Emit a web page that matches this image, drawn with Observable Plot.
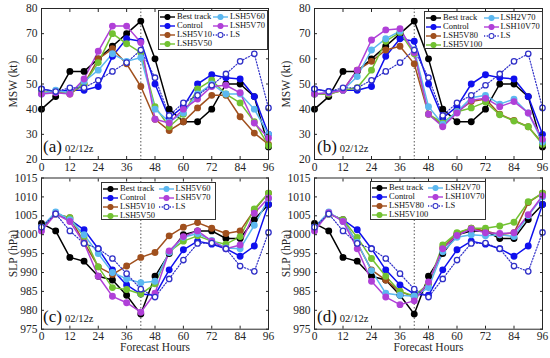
<!DOCTYPE html>
<html><head><meta charset="utf-8">
<script src="https://cdn.jsdelivr.net/npm/d3@7"></script>
<script src="https://cdn.jsdelivr.net/npm/@observablehq/plot@0.6"></script>
<style>
body{margin:0;background:#fff;}
#wrap{position:relative;width:550px;height:358px;overflow:hidden;background:#fff;font-family:"Liberation Serif","Times New Roman",serif;color:#262626;}
.panel{position:absolute;}
.panel svg{overflow:visible;}
.legend{position:absolute;border:1px solid #333;background:#fff;box-sizing:border-box;display:grid;grid-auto-flow:column;grid-template-rows:repeat(4,9px);padding:1px 1px;font-size:8.5px;line-height:9px;color:#111;font-family:"Liberation Serif",serif;}
.legend .it{display:flex;align-items:center;white-space:nowrap;}
.legend svg{margin-right:2px;flex:none;}
.plabel{position:absolute;font-size:17px;color:#111;white-space:nowrap;font-family:"Liberation Serif",serif;}
.plabel span{font-size:10.5px;margin-left:3px;}
</style></head>
<body>
<div id="wrap"></div>
<script>
const hours = [0,6,12,18,24,30,36,42,48,54,60,66,72,78,84,90,96];
const xTicks = [0,12,24,36,48,60,72,84,96];
const mswTicks = [20,30,40,50,60,70,80];
const slpTicks = [975,980,985,990,995,1000,1005,1010,1015];
const markHour = [42];

// MSW (kt)
const mswBest    = [40,45,55,55,60,65,70,75,60,40,35,35,40,50,50,45,25];
const mswControl = [48,47,47.5,47.5,49,61,68,67,50,36.5,41,50,53.7,52.5,52,45,30];
const mswLS      = [48,47,48.5,48.5,51.5,55,58.5,63.5,52.5,37.5,42.5,45.5,49.5,54,59,62,40.5];
const mswLSH5V10 = [46.5,47,46,50,60,64,58,49,36,31.5,35,40.5,45.5,45.5,37,30.5,26];
const mswLSH5V50 = [46.5,47,46.5,50,58.5,70,66,62.5,41,33,38,48,51.5,46,42.5,35,25.5];
const mswLSH5V60 = [46,47.5,46.5,51,55.5,62,59,60.5,40,35,38.5,46,50,46,46,40,30];
const mswLSH5V70 = [46,46.5,46,52,63,73,73,66.5,36,34.5,40,44,49,49.5,46.5,34.5,28.5];
const mswLSH5V80 = [46,46,47.5,55.5,59,63.5,65,58,38,33.5,39,43,44,38,35.5,33,26.5];
const mswLSH5V100= [46,46,47.5,48.5,55.5,67,70.5,62,38,34.5,39,40.5,42.8,37.8,35.3,33,26];
const mswLSH2V70 = [46,46.5,47.5,53,63.5,68,71,63.5,41,34,39,44.5,45.5,42,44,38.5,27];
const mswLSH10V70= [46,46.5,47.5,55.5,67.5,71.5,72,62.5,38,33,38.5,43.5,44.3,41,43,38.5,28];

// SLP (hPa)
const slpBest    = [1003,1001,994,993,989,988,984,979,989,995,1000,1001,1001,999,999,1004,1008];
const slpControl = [1002,1005.5,1004,1001.3,996.3,990.7,986.7,984.3,984,990.7,996,998.3,997.5,996.3,994.3,997,1008];
const slpLS      = [1002,1005.5,1001,997.7,996.3,993.7,989.7,985.6,983.5,988.3,993.3,997.7,997.8,996.3,991.7,990.3,1000.6];
const slpLSH5V10 = [1002,1005.5,1004.5,998,991.5,989.5,991.7,994,995.3,999.7,1002,1003.2,1001.7,1000.3,1001,1006.5,1011];
const slpLSH5V50 = [1002,1005.5,1004.5,999.5,991.5,986,985.5,984.3,987,995.5,998.3,999.7,998.3,997.5,999.5,1006.8,1011];
const slpLSH5V60 = [1002,1006,1004,1000,995,990,988.3,987.3,987.7,995.3,999.3,1000.3,998.5,996.5,996.3,1002.5,1009.5];
const slpLSH5V70 = [1001,1005.5,1003.5,997.8,989,983.7,982,979.5,984.5,995.7,999.5,1001,998.3,996.3,997.3,1005.7,1009.7];
const slpLSH5V80 = [1002,1005.5,1004,997.7,990.7,988,985,983.5,987,996.5,1000.3,1001.7,1001,1000,1000.5,1008.5,1011];
const slpLSH5V100= [1002,1005.5,1004,999.3,993.7,989,985,983.8,987,997.3,1000.5,1001.7,1001.7,1002.3,1003.3,1008.7,1011];
const slpLSH2V70 = [1002,1006,1003.5,998,990.5,984.5,984,983.7,986,995.5,999.3,1000,999.7,1000,999.5,1005,1010];
const slpLSH10V70= [1001,1005.8,1003.5,996.3,987.7,983.5,981.5,982.5,987.5,996.3,999.8,1001.5,1000.5,1000.3,1000.5,1005.3,1010.3];

const namesA = ["Best track","Control","LSH5V10","LSH5V50","LSH5V60","LSH5V70","LS"];
const namesB = ["Best track","Control","LSH5V80","LSH5V100","LSH2V70","LSH10V70","LS"];
const panelLetters = ["(a)","(b)","(c)","(d)"];
const initTime = "02/12z";

// styles
const palette = ["#000000","#1010ee","#a0501e","#72c232","#5cb8f0","#b040d8","#3030c8"];

const panels = [
  {letter:panelLetters[0], names:namesA, series:[mswBest,mswControl,mswLSH5V10,mswLSH5V50,mswLSH5V60,mswLSH5V70,mswLS], yDomain:[20,80], yTicks:mswTicks, yLabel:"MSW (kt)", xLabel:null,
   pos:{left:0,top:0,w:275,h:178,ml:41,mr:7,mt:8,mb:19}, leg:{left:158,top:10,w:110,h:40}, lab:{left:43,top:137}},
  {letter:panelLetters[1], names:namesB, series:[mswBest,mswControl,mswLSH5V80,mswLSH5V100,mswLSH2V70,mswLSH10V70,mswLS], yDomain:[20,80], yTicks:mswTicks, yLabel:"MSW (kt)", xLabel:null,
   pos:{left:275,top:0,w:275,h:178,ml:39,mr:8,mt:8,mb:19}, leg:{left:424,top:11,w:119,h:38}, lab:{left:317,top:137}},
  {letter:panelLetters[2], names:namesA, series:[slpBest,slpControl,slpLSH5V10,slpLSH5V50,slpLSH5V60,slpLSH5V70,slpLS], yDomain:[975,1015], yTicks:slpTicks, yLabel:"SLP (hPa)", xLabel:"Forecast Hours",
   pos:{left:0,top:177,w:275,h:181,ml:41,mr:7,mt:0.5,mb:29.3}, leg:{left:101,top:182,w:115,h:38}, lab:{left:43,top:307}},
  {letter:panelLetters[3], names:namesB, series:[slpBest,slpControl,slpLSH5V80,slpLSH5V100,slpLSH2V70,slpLSH10V70,slpLS], yDomain:[975,1015], yTicks:slpTicks, yLabel:"SLP (hPa)", xLabel:"Forecast Hours",
   pos:{left:275,top:177,w:275,h:181,ml:39,mr:8,mt:0.5,mb:29.3}, leg:{left:370,top:181,w:116,h:39}, lab:{left:317,top:307}},
];

const wrap = document.getElementById("wrap");

function swatch(color, dotted){
  const ns="http://www.w3.org/2000/svg";
  const s=document.createElementNS(ns,"svg");
  s.setAttribute("width","15");s.setAttribute("height","8");
  s.innerHTML = `<line x1="0" x2="15" y1="4" y2="4" stroke="${color}" stroke-width="1.4" ${dotted?'stroke-dasharray="1.2,1.5"':''}/>`+
    `<circle cx="7.5" cy="4" r="2.5" fill="${dotted?'#fff':color}" stroke="${color}" stroke-width="1.1"/>`;
  return s;
}

const fmt = d => String(d);

for (const p of panels){
  const rows=[];
  p.names.forEach((n,i)=>{ p.series[i].forEach((v,j)=>rows.push({series:n, hour:hours[j], value:v})); });
  const solid = rows.filter(d=>d.series!=="LS");
  const ls = rows.filter(d=>d.series==="LS");
  const color = {domain:p.names, range:palette};
  const chart = Plot.plot({
    width:p.pos.w, height:p.pos.h,
    marginLeft:p.pos.ml, marginRight:p.pos.mr, marginTop:p.pos.mt, marginBottom:p.pos.mb,
    style:{fontFamily:"'Liberation Serif', 'Times New Roman', serif", fontSize:"11.5px", color:"#262626", background:"transparent", overflow:"visible"},
    x:{domain:[0,96]},
    y:{domain:p.yDomain},
    color,
    marks:[
      Plot.ruleX(markHour,{stroke:"#555",strokeDasharray:"1.5,2",strokeWidth:1}),
      Plot.line(solid,{x:"hour",y:"value",z:"series",stroke:"series",strokeWidth:1.5}),
      Plot.line(ls,{x:"hour",y:"value",z:"series",stroke:"series",strokeWidth:1.2,strokeDasharray:"1.2,1.8"}),
      Plot.dot(solid,{x:"hour",y:"value",fill:"series",stroke:"series",r:2.7}),
      Plot.dot(ls,{x:"hour",y:"value",fill:"white",stroke:"series",r:2.7,strokeWidth:1.3}),
      Plot.frame({stroke:"#262626"}),
      Plot.axisX(xTicks,{anchor:"bottom",tickSize:-3,tickPadding:6,tickFormat:fmt,label:p.xLabel,labelAnchor:"center",labelOffset:22,labelArrow:"none"}),
      Plot.axisX(xTicks,{anchor:"top",tickSize:-3,tickFormat:()=>"",label:null}),
      Plot.axisY(p.yTicks,{anchor:"left",tickSize:-3,tickPadding:7,tickFormat:fmt,label:p.yLabel,labelAnchor:"center",labelOffset:33,labelArrow:"none"}),
      Plot.axisY(p.yTicks,{anchor:"right",tickSize:-3,tickFormat:()=>"",label:null})
    ]
  });
  const d=document.createElement("div");
  d.className="panel"; d.style.left=p.pos.left+"px"; d.style.top=p.pos.top+"px";
  d.appendChild(chart); wrap.appendChild(d);

  const l=document.createElement("div");
  l.className="plabel"; l.style.left=p.lab.left+"px"; l.style.top=p.lab.top+"px";
  l.textContent=p.letter;
  const sp=document.createElement("span"); sp.textContent=initTime; l.appendChild(sp);
  wrap.appendChild(l);

  const lg=document.createElement("div");
  lg.className="legend";
  Object.assign(lg.style,{left:p.leg.left+"px",top:p.leg.top+"px",width:p.leg.w+"px",height:p.leg.h+"px"});
  p.names.forEach((n,i)=>{
    const it=document.createElement("div"); it.className="it";
    it.appendChild(swatch(palette[i], n==="LS"));
    const t=document.createElement("span"); t.textContent=n; it.appendChild(t);
    lg.appendChild(it);
  });
  wrap.appendChild(lg);
}
</script>
</body></html>
